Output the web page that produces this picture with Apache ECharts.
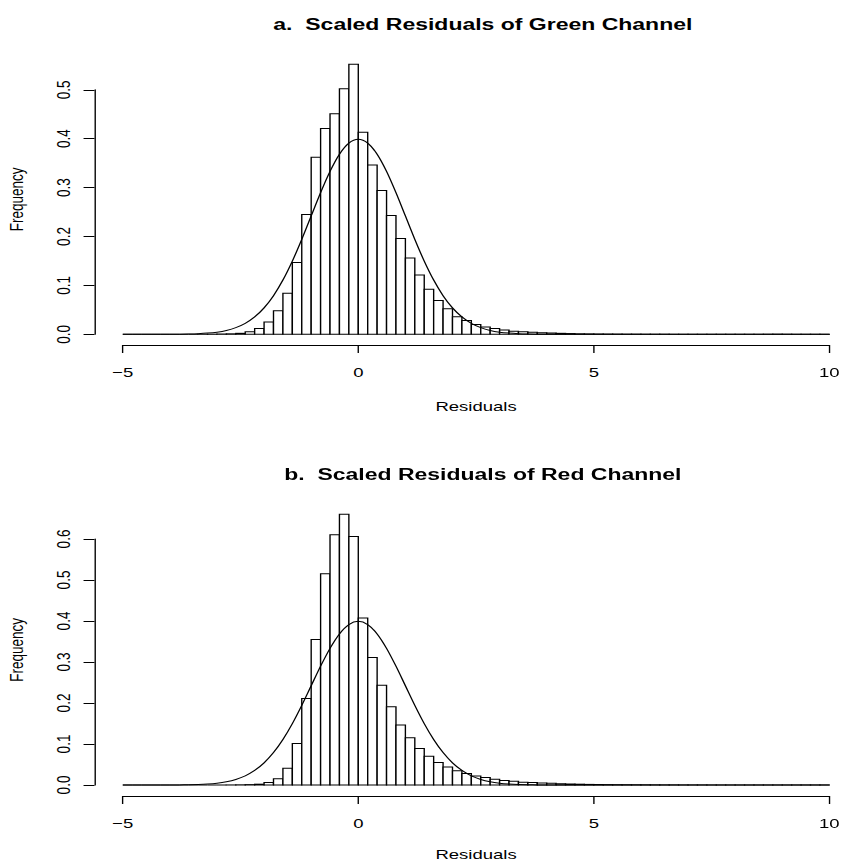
<!DOCTYPE html>
<html>
<head>
<meta charset="utf-8">
<script src="https://cdn.jsdelivr.net/npm/echarts@6/dist/echarts.min.js"></script>
<style>
html,body{margin:0;padding:0;background:#fff;overflow:hidden;width:841px;height:863px;}
#chart{position:absolute;left:0;top:0;height:863px;transform-origin:0 0;}
</style>
</head>
<body>
<div id="chart"></div>
<script>
// ---------------- data ----------------
const breaks = [-5,-4.8,-4.6,-4.4,-4.2,-4,-3.8,-3.6,-3.4,-3.2,-3,-2.8,-2.6,-2.4,-2.2,-2,-1.8,-1.6,-1.4,-1.2,-1,-0.8,-0.6,-0.4,-0.2,
  0,0.2,0.4,0.6,0.8,1,1.2,1.4,1.6,1.8,2,2.2,2.4,2.6,2.8,3,3.2,3.4,3.6,3.8,4,4.2,4.4,4.6,4.8,
  5,5.2,5.4,5.6,5.8,6,6.2,6.4,6.6,6.8,7,7.2,7.4,7.6,7.8,8,8.2,8.4,8.6,8.8,9,9.2,9.4,9.6,9.8,10];

const greenFreq = [0,0,0,0,0,0,0,0,0.0002,0.0003,0.0006,0.001,0.002,0.005,0.012,0.025,0.048,0.084,0.147,0.245,0.362,0.421,0.451,0.502,0.552,
  0.413,0.346,0.294,0.243,0.196,0.156,0.121,0.092,0.069,0.052,0.036,0.028,0.020,0.015,0.012,0.009,0.006,0.005,0.004,0.003,0.0025,0.002,0.0015,0.001,0.0008,
  0.0006,0.0005,0.0004,0.0003,0.0003,0.0002,0.0002,0.0002,0.0001,0.0001,0.0001,0.0001,0.0001,0.0001,0.0001,0.0001,0.0001,0.0001,0.0002,0.0003,0.0002,0.0001,0.0001,0.0001,0.0001];

const redFreq = [0,0,0,0,0,0,0,0,0,0,0,0.0002,0.0005,0.001,0.002,0.006,0.015,0.041,0.101,0.211,0.355,0.515,0.610,0.660,0.606,
  0.407,0.311,0.243,0.191,0.146,0.115,0.089,0.070,0.055,0.044,0.035,0.028,0.022,0.018,0.014,0.011,0.009,0.007,0.006,0.005,0.004,0.003,0.0025,0.002,0.0015,
  0.0012,0.001,0.0008,0.0007,0.0006,0.0005,0.0004,0.0003,0.0003,0.0002,0.0002,0.0002,0.0001,0.0001,0.0001,0.0001,0.0001,0.0001,0.0001,0.0001,0.0001,0.0001,0.0001,0.0001,0.0001];

// normal density curve drawn over each histogram
const curveX = [-5,-4,-3.8,-3.6,-3.4,-3.2,-3,-2.8,-2.6,-2.4,-2.2,-2,-1.8,-1.6,-1.4,-1.2,-1,-0.8,-0.6,-0.4,-0.2,
  0,0.2,0.4,0.6,0.8,1,1.2,1.4,1.6,1.8,2,2.2,2.4,2.6,2.8,3,3.2,3.4,3.6,3.8,4,5,10];
const curveY = [0,0.0001,0.0003,0.0006,0.0012,0.0024,0.0044,0.0079,0.0136,0.0224,0.0355,0.0540,0.0790,0.1109,0.1497,0.1942,0.2420,0.2897,0.3332,0.3683,0.3910,
  0.3989,0.3910,0.3683,0.3332,0.2897,0.2420,0.1942,0.1497,0.1109,0.0790,0.0540,0.0355,0.0224,0.0136,0.0079,0.0044,0.0024,0.0012,0.0006,0.0003,0.0001,0,0];

const titles = ['a.  Scaled Residuals of Green Channel', 'b.  Scaled Residuals of Red Channel'];
const xLabelName = 'Residuals';
const yLabelName = 'Frequency';
const xTickRange = [-5, 10, 5];   // min, max, interval
const yTickRangeA = [0, 0.5, 0.1];
const yTickRangeB = [0, 0.6, 0.1];

// ---------------- layout ----------------
const SX = 1.37;                 // horizontal stretch of the reference picture
const W = 841 / SX;
const el = document.getElementById('chart');
el.style.width = W + 'px';
el.style.transform = 'scaleX(' + SX + ')';
const X = px => px / SX;

const FONT = 'Liberation Sans, Arial, Helvetica, sans-serif';
const TICK_FS = 13.5;

function histData(freq) {
  return freq.map((v, i) => [breaks[i], breaks[i + 1], v]);
}
function renderBar(params, api) {
  const a = api.coord([api.value(0), 0]);
  const b = api.coord([api.value(1), api.value(2)]);
  return {
    type: 'polygon',
    shape: { points: [[a[0], a[1]], [a[0], b[1]], [b[0], b[1]], [b[0], a[1]]] },
    style: { fill: '#fff', stroke: '#000', lineWidth: 1 }
  };
}

const dataLeft = X(94.5), dataWidth = X(763.1);
const axLeft = X(122.8), axWidth = X(706.5);

const hiddenX = (grid, nameGap) => ({
  gridIndex: grid, type: 'value', min: -5.6, max: 10.6,
  axisLine: { show: false }, axisTick: { show: false }, axisLabel: { show: false }, splitLine: { show: false },
  name: xLabelName, nameLocation: 'middle', nameGap: nameGap,
  nameTextStyle: { fontFamily: FONT, fontSize: TICK_FS, color: '#000' }
});
const hiddenY = (grid, min, max) => ({
  gridIndex: grid, type: 'value', min: min, max: max,
  axisLine: { show: false }, axisTick: { show: false }, axisLabel: { show: false }, splitLine: { show: false },
  name: yLabelName, nameLocation: 'middle', nameGap: 50, nameRotate: 90,
  nameTextStyle: { fontFamily: FONT, fontSize: TICK_FS, color: '#000' }
});
const shownX = (grid, offset) => ({
  gridIndex: grid, type: 'value', min: xTickRange[0], max: xTickRange[1], interval: xTickRange[2],
  offset: offset, position: 'bottom',
  axisLine: { show: true, onZero: false, lineStyle: { color: '#000', width: 1 } },
  axisTick: { show: true, length: 8, inside: false, lineStyle: { color: '#000', width: 1 } },
  axisLabel: { show: true, margin: 20, fontFamily: FONT, fontSize: TICK_FS, color: '#000',
    formatter: v => String(v).replace('-', '\u2212') },
  splitLine: { show: false }
});
const shownY = (grid, r) => ({
  gridIndex: grid, type: 'value', min: r[0], max: r[1], interval: r[2],
  offset: X(122.8 - 94.5), position: 'left',
  axisLine: { show: true, onZero: false, lineStyle: { color: '#000', width: 1 } },
  axisTick: { show: true, length: 8, inside: false, lineStyle: { color: '#000', width: 1 } },
  axisLabel: { show: true, margin: 16, rotate: 90, fontFamily: FONT, fontSize: TICK_FS, color: '#000',
    formatter: v => v.toFixed(1) },
  splitLine: { show: false }
});

const option = {
  animation: false,
  backgroundColor: '#fff',
  title: [
    { text: titles[0], left: X(476), top: 11, textAlign: 'center',
      textStyle: { fontFamily: FONT, fontSize: 16.8, fontWeight: 'bold', color: '#000' } },
    { text: titles[1], left: X(476), top: 461, textAlign: 'center',
      textStyle: { fontFamily: FONT, fontSize: 16.8, fontWeight: 'bold', color: '#000' } }
  ],
  grid: [
    { left: dataLeft, width: dataWidth, top: 53.6, height: 291.4, containLabel: false, outerBoundsMode: 'none' },
    { left: axLeft, width: axWidth, top: 89.8, height: 244.5, containLabel: false, outerBoundsMode: 'none' },
    { left: dataLeft, width: dataWidth, top: 503.6, height: 292.4, containLabel: false, outerBoundsMode: 'none' },
    { left: axLeft, width: axWidth, top: 539, height: 246, containLabel: false, outerBoundsMode: 'none' }
  ],
  xAxis: [ hiddenX(0, 54), shownX(1, 10.7), hiddenX(2, 51), shownX(3, 11) ],
  yAxis: [ hiddenY(0, -0.0219, 0.574), shownY(1, yTickRangeA), hiddenY(2, -0.0268, 0.686), shownY(3, yTickRangeB) ],
  series: [
    { type: 'custom', xAxisIndex: 0, yAxisIndex: 0, renderItem: renderBar, data: histData(greenFreq), silent: true },
    { type: 'line', xAxisIndex: 0, yAxisIndex: 0, data: curveX.map((x, i) => [x, curveY[i]]),
      showSymbol: false, smooth: 0.3, lineStyle: { color: '#000', width: 1 }, silent: true },
    { type: 'custom', xAxisIndex: 2, yAxisIndex: 2, renderItem: renderBar, data: histData(redFreq), silent: true },
    { type: 'line', xAxisIndex: 2, yAxisIndex: 2, data: curveX.map((x, i) => [x, curveY[i]]),
      showSymbol: false, smooth: 0.3, lineStyle: { color: '#000', width: 1 }, silent: true }
  ]
};

const chart = echarts.init(el, null, { renderer: 'svg', width: W, height: 863 });
chart.setOption(option);
</script>
</body>
</html>
